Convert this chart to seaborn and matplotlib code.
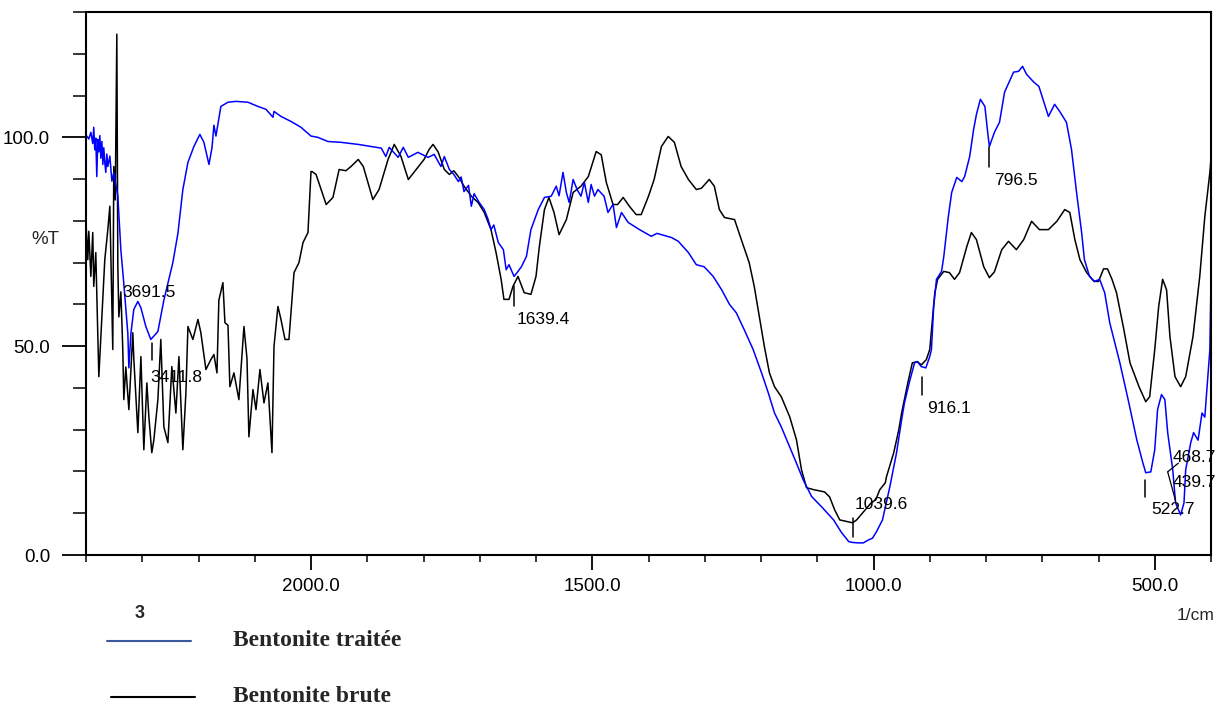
import numpy as np
import pandas as pd
import matplotlib
matplotlib.use("Agg")
import matplotlib.pyplot as plt
from matplotlib.lines import Line2D
import seaborn as sns

# ---------------- data ----------------
wn_traitee = [4000, 3993, 3975, 3957, 3940, 3931, 3922, 3913, 3904, 3895, 3886, 3877, 3868, 3859,
              3850, 3842, 3833, 3824, 3815, 3806, 3788, 3770, 3753, 3717, 3690, 3664, 3628, 3619,
              3601, 3575, 3539, 3512, 3468, 3424, 3361, 3308, 3228, 3183, 3139, 3094, 3041, 2988,
              2952, 2907, 2880, 2863, 2845, 2801, 2738, 2667, 2561, 2472, 2400, 2338, 2329, 2267,
              2178, 2089, 2000, 1988, 1970, 1947, 1916, 1893, 1875, 1867, 1861, 1845, 1836, 1827,
              1810, 1792, 1781, 1769, 1763, 1754, 1746, 1738, 1733, 1728, 1720, 1715, 1710, 1701,
              1692, 1685, 1680, 1675, 1667, 1658, 1653, 1648, 1639, 1632, 1626, 1617, 1609, 1596,
              1585, 1573, 1564, 1559, 1552, 1546, 1541, 1534, 1527, 1520, 1514, 1507, 1502, 1496,
              1490, 1479, 1472, 1463, 1457, 1448, 1436, 1416, 1395, 1385, 1359, 1347, 1329, 1315,
              1301, 1285, 1270, 1256, 1244, 1230, 1214, 1199, 1187, 1176, 1164, 1149, 1137, 1125,
              1110, 1092, 1071, 1057, 1044, 1037, 1027, 1018, 1009, 1002, 995, 984, 971, 959, 950,
              945, 936, 927, 922, 915, 907, 900, 897, 893, 888, 879, 875, 867, 861, 852, 843, 838,
              829, 822, 817, 810, 802, 797, 794, 785, 776, 767, 751, 742, 735, 728, 715, 706, 689,
              678, 669, 657, 648, 639, 630, 625, 616, 607, 598, 589, 580, 562, 546, 532, 521, 516,
              507, 500, 495, 488, 482, 477, 468, 463, 454, 448, 445, 436, 431, 423, 416, 411, 402,
              400]
t_traitee = [100.2, 100.3, 99.6, 101.2, 98.5, 102.4, 97.0, 99.8, 90.6, 99.5, 96.5, 100.4, 95.0, 99.0,
             93.5, 97.5, 94.0, 91.6, 96.0, 93.0, 95.5, 89.5, 91.6, 85.9, 73.0, 65.0, 53.0, 44.8,
             53.0, 58.8, 60.7, 59.2, 54.7, 51.6, 53.5, 61.0, 70.0, 77.0, 87.5, 94.0, 97.8, 100.7,
             98.8, 93.5, 97.5, 102.9, 100.3, 107.4, 108.4, 108.6, 108.4, 107.4, 106.7, 104.8, 106.2,
             105.0, 103.8, 102.4, 100.3, 100.0, 99.0, 98.8, 98.3, 97.8, 97.4, 95.4, 97.6, 95.2, 97.6,
             95.2, 96.4, 95.2, 95.9, 93.0, 95.4, 92.3, 91.1, 89.4, 90.5, 87.0, 88.5, 83.5, 86.5,
             84.4, 82.7, 80.3, 77.9, 79.0, 74.8, 73.1, 68.3, 69.5, 66.7, 67.9, 69.0, 71.5, 77.9,
             82.7, 85.6, 85.9, 88.3, 86.0, 91.6, 86.8, 84.4, 89.9, 87.5, 85.9, 89.2, 84.4, 88.7,
             85.9, 87.5, 85.9, 82.0, 84.0, 78.4, 82.0, 79.6, 77.9, 76.3, 77.0, 76.0, 75.1, 72.4,
             69.5, 69.0, 66.7, 63.5, 60.0, 58.0, 54.0, 49.2, 43.6, 38.8, 34.0, 30.7, 25.9, 22.0,
             18.0, 14.0, 11.5, 8.4, 5.4, 3.2, 3.0, 2.9, 2.9, 3.6, 4.0, 5.5, 8.4, 16.3, 24.5, 32.4,
             36.4, 41.5, 46.0, 46.3, 45.1, 44.8, 47.5, 49.2, 59.5, 66.0, 67.9, 71.5, 81.0, 86.8,
             90.4, 89.4, 90.6, 95.4, 101.9, 105.5, 109.1, 107.4, 101.2, 97.8, 101.2, 103.6, 110.8,
             115.6, 115.8, 117.0, 115.1, 113.2, 112.2, 105.0, 107.9, 106.2, 103.6, 97.1, 86.8,
             77.2, 70.7, 66.7, 65.5, 66.0, 62.8, 55.6, 46.0, 36.4, 27.6, 22.0, 19.7, 19.9, 25.2,
             34.8, 38.4, 37.2, 29.3, 20.4, 12.5, 9.6, 12.5, 20.4, 26.9, 29.3, 27.5, 34.0, 33.0,
             49.2, 66.0]
t_traitee = t_traitee[:len(wn_traitee)]

wn_brute = [4000, 3984, 3975, 3957, 3940, 3931, 3913, 3886, 3859, 3833, 3806, 3788, 3762, 3753,
            3740, 3726, 3717, 3708, 3690, 3673, 3664, 3646, 3619, 3584, 3575, 3539, 3512, 3486,
            3459, 3441, 3415, 3397, 3361, 3335, 3308, 3272, 3237, 3201, 3174, 3139, 3112, 3094,
            3050, 3005, 2979, 2934, 2890, 2863, 2836, 2819, 2783, 2765, 2738, 2721, 2685, 2641,
            2596, 2569, 2552, 2516, 2489, 2454, 2418, 2383, 2347, 2329, 2294, 2267, 2231, 2196,
            2151, 2107, 2071, 2027, 2000, 1998, 1991, 1973, 1961, 1950, 1938, 1929, 1916, 1907,
            1890, 1879, 1863, 1852, 1840, 1827, 1813, 1799, 1790, 1783, 1774, 1763, 1754, 1746,
            1737, 1728, 1715, 1703, 1692, 1680, 1671, 1662, 1657, 1648, 1641, 1632, 1621, 1609,
            1600, 1594, 1585, 1577, 1568, 1559, 1546, 1534, 1520, 1507, 1493, 1484, 1475, 1463,
            1455, 1445, 1434, 1422, 1413, 1400, 1390, 1377, 1365, 1354, 1342, 1329, 1315, 1306,
            1292, 1283, 1274, 1265, 1247, 1235, 1221, 1212, 1203, 1194, 1185, 1176, 1164, 1149,
            1137, 1128, 1119, 1105, 1087, 1078, 1069, 1060, 1044, 1037, 1030, 1018, 1004, 996,
            989, 979, 977, 964, 955, 950, 939, 931, 922, 915, 906, 900, 891, 886, 875, 865, 856,
            847, 834, 826, 817, 804, 794, 785, 772, 760, 746, 733, 719, 705, 689, 674, 660, 651,
            642, 633, 621, 608, 600, 591, 584, 576, 568, 555, 544, 528, 516, 509, 500, 493, 486,
            479, 473, 464, 454, 445, 432, 420, 411, 402, 400]
t_brute = [79.6, 70.7, 77.5, 66.7, 77.2, 64.3, 72.4, 42.7, 57.1, 70.7, 77.9, 83.5, 49.2, 93.0,
           85.0, 124.7, 69.0, 57.0, 63.0, 49.2, 37.2, 45.0, 34.8, 53.2, 47.0, 29.3, 47.5, 25.2,
           41.2, 33.0, 24.5, 27.5, 37.2, 51.6, 30.7, 26.9, 45.1, 34.0, 47.5, 25.2, 38.8, 54.7,
           51.6, 56.4, 53.2, 44.4, 46.8, 48.0, 43.6, 61.0, 65.2, 55.6, 55.0, 40.3, 43.6, 37.2,
           54.7, 47.0, 28.3, 39.6, 34.8, 44.4, 36.4, 41.2, 24.5, 49.9, 59.5, 56.4, 51.6, 51.6,
           67.6, 70.0, 74.8, 77.2, 91.8, 91.8, 91.1, 83.9, 85.6, 92.3, 92.0, 93.0, 94.7, 93.0,
           85.1, 87.5, 94.7, 98.3, 95.4, 89.9, 92.3, 94.7, 97.1, 98.3, 96.5, 92.3, 91.1, 92.0,
           90.4, 88.3, 85.9, 84.4, 82.0, 77.9, 72.4, 66.0, 61.2, 61.2, 64.3, 66.7, 62.8, 62.4,
           66.7, 73.9, 82.7, 85.6, 82.0, 76.7, 80.3, 86.8, 88.3, 90.6, 96.6, 95.8, 89.2, 83.9,
           83.9, 85.6, 83.5, 81.5, 81.5, 85.9, 89.9, 97.8, 100.2, 98.8, 93.0, 89.9, 87.5, 87.8,
           89.9, 88.3, 82.7, 80.8, 80.3, 75.5, 70.0, 64.3, 57.1, 49.9, 43.6, 40.3, 37.9, 33.1,
           27.6, 20.4, 16.1, 15.6, 15.1, 13.9, 10.8, 8.4, 7.9, 7.7, 8.4, 10.3, 12.5, 13.2,
           15.6, 17.3, 18.7, 24.5, 30.0, 34.0, 41.2, 46.0, 46.3, 45.5, 46.8, 49.2, 62.8, 66.0,
           67.9, 67.6, 66.0, 67.6, 73.9, 77.2, 75.5, 69.0, 66.4, 67.8, 73.1, 75.1, 73.1, 75.5,
           79.9, 77.9, 77.9, 79.9, 82.7, 82.0, 75.5, 70.7, 67.6, 65.5, 65.5, 68.5, 68.5, 66.0,
           62.8, 54.0, 46.0, 40.3, 36.7, 37.9, 49.2, 59.5, 66.0, 63.5, 52.3, 42.7, 40.3, 42.7,
           52.3, 66.7, 81.0, 91.6, 95.0]
t_brute = t_brute[:len(wn_brute)]

series_names = ["Bentonite traitée", "Bentonite brute"]
x_major = [2000, 1500, 1000, 500]
x_major_labels = ["2000.0", "1500.0", "1000.0", "500.0"]
y_major = [0, 50, 100]
y_major_labels = ["0.0", "50.0", "100.0"]

peak_labels = ["3691.5", "3411.8", "1639.4", "1039.6", "916.1", "796.5", "522.7", "468.7", "439.7"]
peak_text_x = [3673, 3424, 1635, 1034, 904, 785, 507, 468, 468]
peak_text_y = [62.8, 42.4, 56.4, 12.0, 35.0, 89.7, 10.8, 23.3, 17.3]
peak_tick_x = [None, 3415, 1639, 1037, 913, 794, 518, None, None]
peak_tick_y0 = [None, 46.8, 59.5, 4.3, 38.4, 92.8, 13.9, None, None]
peak_tick_y1 = [None, 50.8, 64.3, 8.9, 42.7, 97.6, 18.0, None, None]

# ---------------- style ----------------
sns.set_theme(style="white")
NARROW = ["Liberation Sans Narrow", "Liberation Sans", "DejaVu Sans"]
plt.rcParams["font.family"] = NARROW

fig = plt.figure(figsize=(12.18, 7.06), dpi=100)
ax = fig.add_axes([86 / 1218, 1 - 555 / 706, (1211 - 86) / 1218, (555 - 12) / 706])


def fwd(x):
    x = np.asarray(x, dtype=float)
    return np.where(x > 2000, 2000 + (x - 2000) / 5.0, x)


def inv(u):
    u = np.asarray(u, dtype=float)
    return np.where(u > 2000, 2000 + (u - 2000) * 5.0, u)


ax.set_xscale("function", functions=(fwd, inv))

df_t = pd.DataFrame({"wn": wn_traitee, "T": t_traitee})
df_b = pd.DataFrame({"wn": wn_brute, "T": t_brute})
sns.lineplot(data=df_b, x="wn", y="T", ax=ax, color="black", lw=1.1, estimator=None, sort=False)
sns.lineplot(data=df_t, x="wn", y="T", ax=ax, color="#0000FF", lw=1.1, estimator=None, sort=False)

ax.set_xlim(4000, 400)
ax.set_ylim(0, 130)
ax.set_xlabel("")
ax.set_ylabel("")

ax.set_xticks(x_major)
ax.set_xticklabels(x_major_labels)
x_minor = [4000, 3500, 3000, 2500] + [v for v in range(1900, 399, -100) if v not in x_major]
ax.set_xticks(x_minor, minor=True)
ax.set_yticks(y_major)
ax.set_yticklabels(y_major_labels)
ax.set_yticks([v for v in range(0, 131, 10) if v not in y_major], minor=True)

ax.tick_params(axis="x", which="major", length=10.8, width=1.3, direction="out", pad=5.5,
               labelsize=13.5, colors="black")
ax.tick_params(axis="x", which="minor", length=5, width=1.3, direction="out")
ax.tick_params(axis="y", which="major", length=17.3, width=1.3, direction="out", pad=8.5,
               labelsize=13.5, colors="black")
ax.tick_params(axis="y", which="minor", length=9.4, width=1.3, direction="out")
ax.tick_params(bottom=True, left=True, which="both")
for lab in ax.get_xticklabels() + ax.get_yticklabels():
    lab.set_family(NARROW)

for s in ax.spines.values():
    s.set_visible(True)
    s.set_color("black")
    s.set_linewidth(1.5)

# peak annotations
for i, lab in enumerate(peak_labels):
    ax.text(peak_text_x[i], peak_text_y[i], lab, ha="left", va="center", fontsize=12.5,
            family=NARROW, color="black")
    if peak_tick_x[i] is not None:
        ax.plot([peak_tick_x[i], peak_tick_x[i]], [peak_tick_y0[i], peak_tick_y1[i]],
                color="black", lw=1.1)
# leader lines to 468.7 / 439.7
ax.plot([477, 458], [19.9, 22.0], color="black", lw=0.9)
ax.plot([477, 463], [19.9, 13.0], color="black", lw=0.9)

# axis texts
fig.text(31 / 1218, 1 - 240 / 706, "%T", ha="left", va="center", fontsize=13.5, family=NARROW)
fig.text(1177 / 1218, 1 - 616 / 706, "1/cm", ha="left", va="center", fontsize=12.5, family=NARROW)
fig.text(140 / 1218, 1 - 614 / 706, "3", ha="center", va="center", fontsize=13,
         fontweight="bold", family=["Liberation Sans", "DejaVu Sans"])

# legend (drawn below the chart)
leg_colors = ["#3A5A9C", "black"]
leg_y = [641, 697]
leg_x0 = [107, 111]
leg_x1 = [191, 195]
for name, c, y, x0, x1 in zip(series_names, leg_colors, leg_y, leg_x0, leg_x1):
    fig.add_artist(Line2D([x0 / 1218, x1 / 1218], [1 - y / 706, 1 - y / 706], color=c, lw=1.5,
                          transform=fig.transFigure))
    fig.text(233 / 1218, 1 - (y - 1) / 706, name, ha="left", va="center", fontsize=17,
             fontweight="bold", family=["Liberation Serif", "DejaVu Serif"])

fig.savefig("out.png", dpi=100)
